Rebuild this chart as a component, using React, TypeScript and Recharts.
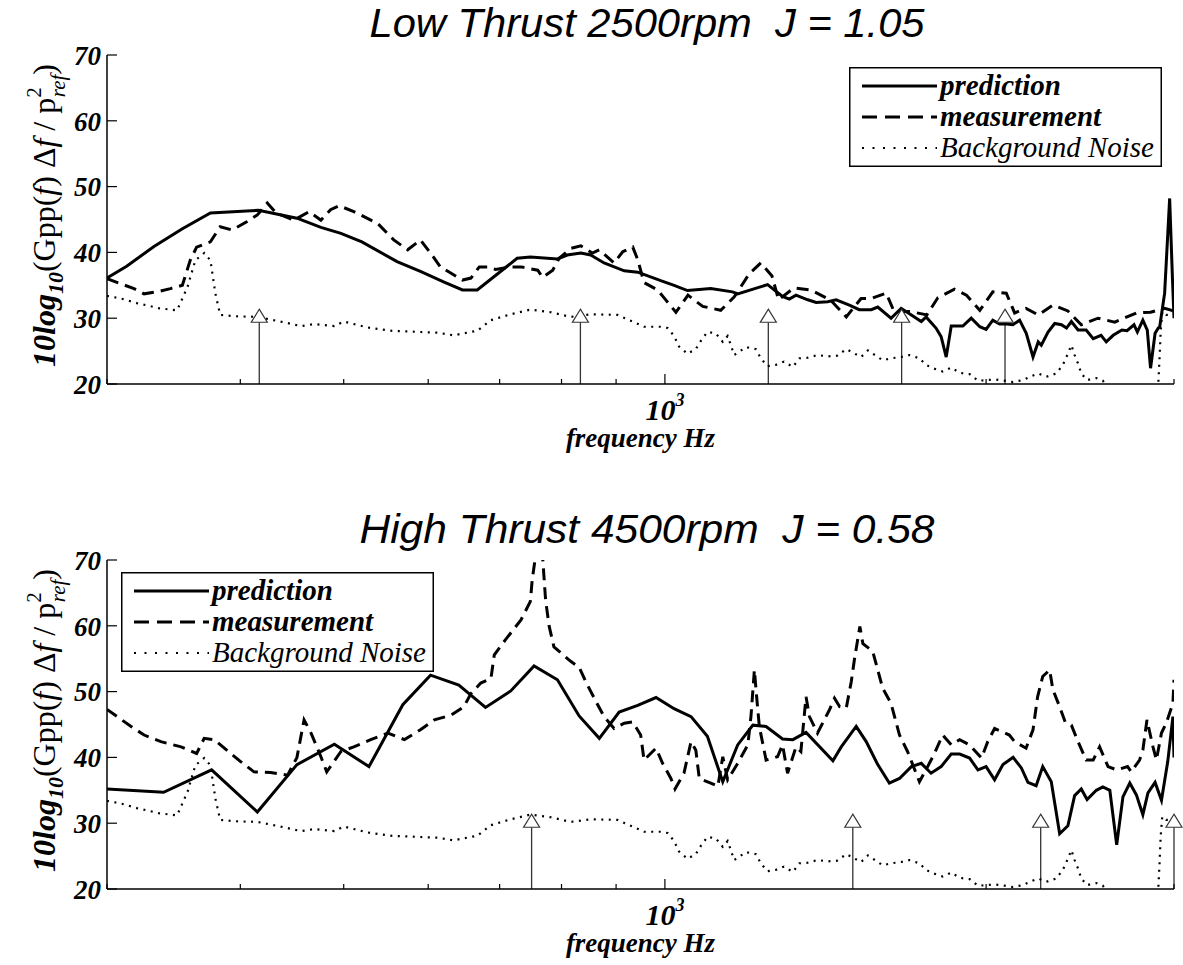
import React from 'react';
import { ComposedChart, Line, XAxis, YAxis, Legend, ReferenceLine, ReferenceDot } from 'recharts';

const SERIF = '"Liberation Serif", "Times New Roman", Tinos, serif';
const SANS = '"Liberation Sans", Arial, sans-serif';

// axis ticks
const freqTicks = [300, 400, 500, 600, 700, 800, 900, 1000, 2000, 3000];
const levelTicks = [20, 30, 40, 50, 60, 70];

// blade passing harmonics (Hz)
const lowHarmonics = [416.7, 833.3, 1250, 1666.7, 2083.3];
const highHarmonics = [750, 1500, 2250, 3000];

// [frequency Hz, dB]
const lowPrediction: [number, number][] = [
  [300, 36.1], [313, 37.9], [332, 40.9], [353, 43.6], [375, 46.0], [416, 46.4], [452, 45.2], [476, 43.8],
  [497, 42.9], [520, 41.6], [561, 38.6], [590, 37.1], [621, 35.5], [646, 34.3], [667, 34.3], [727, 39.1],
  [748, 39.3], [793, 39.0], [810, 39.6], [834, 39.9], [852, 39.6], [877, 38.4], [916, 37.2], [943, 37.0],
  [991, 35.7], [1020, 35.0], [1050, 34.2], [1104, 34.5], [1157, 34.0], [1170, 33.7], [1248, 35.1], [1289, 33.3],
  [1308, 32.9], [1327, 33.5], [1361, 32.8], [1386, 32.4], [1421, 32.5], [1447, 32.8], [1489, 32.0], [1521, 31.3],
  [1561, 31.3], [1583, 31.7], [1629, 30.0], [1665, 31.5], [1702, 30.5], [1739, 29.5], [1757, 30.2], [1795, 28.5],
  [1815, 27.2], [1835, 24.1], [1855, 28.8], [1902, 28.8], [1937, 30.0], [1973, 28.7], [2000, 28.3], [2029, 29.7],
  [2059, 29.1], [2089, 29.1], [2119, 29.0], [2150, 29.7], [2181, 27.7], [2213, 24.1], [2238, 26.4], [2253, 25.9],
  [2286, 27.9], [2319, 29.2], [2353, 29.0], [2379, 28.5], [2404, 29.5], [2439, 28.2], [2482, 28.2], [2520, 26.9],
  [2563, 27.4], [2592, 26.4], [2631, 27.4], [2681, 28.2], [2711, 28.1], [2752, 29.0], [2772, 27.9], [2805, 29.7],
  [2832, 28.2], [2852, 22.4], [2880, 27.7], [2900, 28.5], [2909, 28.7], [2940, 33.8], [2972, 48.2], [2990, 36.0],
  [3000, 30.0],
];

const lowMeasurement: [number, number][] = [
  [300, 36.0], [318, 34.5], [325, 33.7], [334, 34.0], [344, 34.5], [353, 35.0], [359, 38.8], [364, 40.8],
  [375, 41.6], [383, 43.9], [393, 43.4], [406, 44.7], [415, 45.7], [424, 47.5], [432, 46.0], [449, 44.9],
  [464, 46.2], [476, 44.9], [486, 46.5], [495, 47.1], [511, 46.2], [538, 44.4], [557, 41.9], [574, 40.4],
  [590, 41.9], [603, 39.9], [616, 37.8], [646, 35.8], [658, 36.1], [670, 37.8], [682, 37.8], [694, 37.4],
  [717, 37.8], [733, 37.8], [760, 37.3], [768, 36.2], [785, 37.3], [796, 39.1], [816, 40.6], [834, 41.0],
  [855, 39.9], [868, 40.4], [896, 38.4], [913, 40.1], [933, 40.8], [943, 38.9], [956, 35.4], [984, 34.3],
  [997, 33.2], [1024, 30.9], [1051, 33.5], [1085, 31.8], [1128, 31.2], [1161, 33.2], [1199, 36.7], [1230, 38.4],
  [1260, 36.4], [1278, 32.8], [1321, 34.6], [1370, 34.3], [1431, 32.7], [1479, 30.2], [1527, 33.0], [1561, 33.0],
  [1612, 33.8], [1640, 31.0], [1700, 31.0], [1760, 30.5], [1802, 33.1], [1868, 34.4], [1917, 33.5], [1973, 31.2],
  [2029, 34.0], [2089, 33.8], [2127, 30.8], [2180, 31.5], [2238, 30.5], [2310, 32.0], [2386, 31.1], [2456, 29.0],
  [2546, 30.0], [2640, 29.4], [2766, 30.8], [2852, 30.9], [2940, 31.5], [2985, 31.2], [3000, 31.0],
];

const highPrediction: [number, number][] = [
  [300, 35.2], [339, 34.7], [376, 38.1], [415, 31.7], [452, 38.9], [490, 42.0], [528, 38.6], [568, 48.0],
  [603, 52.5], [641, 51.0], [679, 47.6], [717, 50.1], [754, 53.9], [793, 51.8], [831, 46.3], [868, 42.9],
  [906, 46.9], [943, 47.9], [981, 49.1], [1020, 47.4], [1058, 46.2], [1096, 43.2], [1133, 36.3], [1170, 41.9],
  [1209, 44.9], [1244, 44.7], [1289, 42.8], [1318, 42.7], [1356, 43.8], [1437, 39.5], [1463, 41.6], [1495, 43.7],
  [1511, 44.7], [1544, 42.4], [1583, 38.9], [1623, 36.1], [1659, 36.8], [1702, 38.6], [1739, 39.1], [1776, 37.6],
  [1815, 38.6], [1855, 40.5], [1889, 40.5], [1930, 39.9], [1965, 38.1], [2000, 38.6], [2037, 36.6], [2074, 38.9],
  [2120, 40.0], [2158, 38.4], [2189, 36.2], [2228, 35.7], [2260, 38.6], [2302, 36.3], [2344, 28.4], [2386, 29.6],
  [2421, 34.2], [2456, 35.2], [2487, 33.6], [2537, 35.0], [2573, 35.5], [2612, 35.0], [2651, 26.7], [2687, 34.0],
  [2727, 36.1], [2766, 34.3], [2805, 31.3], [2836, 34.6], [2880, 36.2], [2920, 33.5], [2960, 39.4], [2993, 46.2],
  [3000, 40.0],
];

const highMeasurement: [number, number][] = [
  [300, 47.3], [316, 44.7], [325, 43.4], [337, 42.4], [352, 41.6], [364, 40.6], [370, 42.9], [378, 42.7],
  [400, 39.4], [412, 37.8], [427, 37.7], [443, 37.3], [452, 40.0], [459, 45.7], [466, 43.7], [476, 40.1],
  [482, 37.8], [497, 40.9], [511, 41.6], [530, 42.7], [550, 43.7], [570, 42.7], [590, 44.2], [608, 45.7],
  [630, 46.4], [648, 47.7], [658, 49.7], [672, 51.3], [687, 52.0], [692, 55.6], [709, 57.9], [733, 60.9],
  [748, 63.7], [751, 67.0], [757, 71.0], [764, 74.0], [768, 70.5], [773, 63.9], [779, 59.9], [787, 56.8],
  [816, 54.6], [831, 53.7], [846, 51.0], [865, 48.0], [877, 46.2], [896, 44.4], [916, 45.2], [933, 45.4],
  [949, 43.4], [956, 39.6], [981, 41.4], [995, 39.1], [1013, 36.8], [1022, 35.2], [1042, 37.6], [1058, 42.4],
  [1069, 41.1], [1077, 36.8], [1104, 36.1], [1121, 35.6], [1133, 40.1], [1145, 36.6], [1170, 39.1], [1196, 41.9],
  [1204, 46.2], [1213, 53.3], [1218, 49.8], [1226, 44.7], [1244, 39.6], [1275, 40.1], [1289, 41.9], [1303, 37.6],
  [1327, 41.6], [1341, 40.9], [1356, 49.2], [1366, 46.2], [1390, 43.7], [1426, 47.2], [1442, 49.0], [1458, 47.7],
  [1479, 47.5], [1495, 51.5], [1505, 54.8], [1523, 59.9], [1533, 57.3], [1566, 56.1], [1600, 50.5], [1629, 48.2],
  [1659, 43.4], [1688, 40.9], [1707, 38.9], [1732, 36.3], [1763, 38.6], [1789, 40.6], [1821, 43.4], [1855, 41.9],
  [1889, 42.7], [1930, 41.9], [1980, 39.9], [2007, 42.4], [2037, 44.4], [2103, 43.4], [2127, 42.4], [2180, 41.4],
  [2213, 44.2], [2235, 49.2], [2260, 52.3], [2294, 53.3], [2310, 50.3], [2344, 47.7], [2372, 45.4], [2404, 44.9],
  [2439, 42.4], [2482, 39.6], [2520, 39.6], [2555, 41.6], [2602, 38.6], [2651, 38.1], [2714, 38.6], [2736, 37.8],
  [2785, 39.6], [2805, 41.1], [2830, 45.7], [2867, 41.6], [2888, 39.6], [2920, 43.7], [2950, 45.2], [2993, 48.2],
  [3000, 51.8],
];

// same background measurement in both panels
const backgroundNoise: [number, number][] = [
  [300, 33.4], [309, 33.0], [320, 32.3], [336, 31.5], [349, 31.2], [357, 34.8], [363, 38.8], [370, 39.9],
  [375, 38.8], [379, 33.8], [383, 30.5], [395, 30.3], [415, 30.2], [436, 29.5], [456, 28.8], [469, 29.1],
  [490, 28.8], [500, 29.5], [526, 28.6], [553, 28.1], [590, 27.9], [612, 27.8], [634, 27.4], [667, 28.1],
  [687, 29.7], [717, 30.6], [748, 31.3], [782, 30.9], [816, 30.2], [852, 30.6], [903, 30.5], [956, 28.7],
  [991, 28.7], [1006, 28.5], [1020, 27.3], [1031, 25.7], [1050, 24.6], [1069, 25.3], [1081, 26.6], [1096, 27.9],
  [1116, 27.7], [1133, 26.4], [1145, 27.3], [1153, 25.9], [1161, 24.4], [1174, 24.9], [1191, 25.6], [1217, 25.3],
  [1230, 23.9], [1248, 22.7], [1270, 22.9], [1293, 23.4], [1318, 22.6], [1337, 23.9], [1361, 24.0], [1390, 24.4],
  [1421, 24.2], [1450, 24.3], [1479, 25.3], [1527, 24.1], [1550, 25.1], [1600, 23.6], [1629, 23.9], [1665, 24.1],
  [1695, 24.4], [1732, 23.9], [1757, 22.9], [1783, 22.4], [1821, 21.9], [1855, 22.5], [1889, 21.7], [1930, 21.5],
  [1965, 20.5], [2007, 20.6], [2037, 20.7], [2082, 20.5], [2119, 20.3], [2166, 20.6], [2205, 21.2], [2238, 21.6],
  [2278, 21.1], [2327, 21.6], [2360, 22.9], [2386, 24.6], [2404, 25.9], [2421, 24.4], [2439, 23.1], [2456, 21.6],
  [2487, 20.6], [2537, 20.9], [2573, 20.5], [2610, 19.0], [2700, 18.0], [2880, 18.0], [2900, 20.0], [2908, 24.0],
  [2915, 28.0], [2925, 31.0], [2950, 30.5], [3000, 30.5],
];

const toPoints = (rows: [number, number][]) => rows.map(([f, v]) => ({ f, v }));

const legendRows = [
  { name: 'prediction', dash: undefined, width: 3, weight: 700 },
  { name: 'measurement', dash: '15 8', width: 3, weight: 700 },
  { name: 'Background Noise', dash: '2 8.5', width: 2, weight: 400 },
];

function BottomTick(props: any) {
  const { x, y, payload } = props;
  const major = payload.value === 1000;
  return (
    <g>
      <line x1={x} y1={y} x2={x} y2={y - (major ? 10 : 5)} stroke="#000" strokeWidth={1.2} />
      {major && (
        <text x={x} y={y + 36} textAnchor="middle" fontFamily={SERIF} fontSize={30} fontWeight="bold" fontStyle="italic">
          10<tspan dy={-14} fontSize={18}>3</tspan>
        </text>
      )}
    </g>
  );
}

function TopTick(props: any) {
  const { x, y, payload } = props;
  const major = payload.value === 1000;
  return <line x1={x} y1={y} x2={x} y2={y + (major ? 10 : 5)} stroke="#000" strokeWidth={1.2} />;
}

function LeftTick(props: any) {
  const { x, y, payload } = props;
  return (
    <g>
      <line x1={x} y1={y} x2={x + 10} y2={y} stroke="#000" strokeWidth={1.2} />
      <text x={x - 6} y={y} dy="0.36em" textAnchor="end" fontFamily={SERIF} fontSize={27} fontWeight="bold" fontStyle="italic">
        {payload.value}
      </text>
    </g>
  );
}

function RightTick(props: any) {
  const { x, y } = props;
  return <line x1={x} y1={y} x2={x - 10} y2={y} stroke="#000" strokeWidth={1.2} />;
}

const Triangle = (p: any) => (
  <polygon
    points={`${p.cx},${p.cy - 7} ${p.cx - 8},${p.cy + 6} ${p.cx + 8},${p.cy + 6}`}
    fill="#fff"
    stroke="#333"
    strokeWidth={1.2}
  />
);

function LegendBox() {
  return (
    <svg width={313} height={100} style={{ display: 'block' }}>
      <rect x={0.75} y={0.75} width={311.5} height={98.5} fill="#fff" stroke="#000" strokeWidth={1.5} />
      {legendRows.map((r, i) => {
        const y = 19 + i * 31;
        return (
          <g key={r.name}>
            <line x1={13} x2={88} y1={y} y2={y} stroke="#000" strokeWidth={r.width} strokeDasharray={r.dash} />
            <text x={91} y={y} dy="0.3em" fontFamily={SERIF} fontSize={29} fontStyle="italic" fontWeight={r.weight}>
              {r.name}
            </text>
          </g>
        );
      })}
    </svg>
  );
}

function Panel({ title, titleWidth, titleY, prediction, measurement, harmonics, legendLeft }: any) {
  const axisLine = { stroke: '#000', strokeWidth: 1.5 };
  return (
    <div style={{ position: 'relative', width: 1183, height: 460 }}>
      <svg width={1183} height={52} style={{ position: 'absolute', left: 0, top: 0 }}>
        <text x={647} y={titleY} textAnchor="middle" fontFamily={SANS} fontSize={40} fontStyle="italic"
          textLength={titleWidth} lengthAdjust="spacingAndGlyphs">
          {title}
        </text>
      </svg>
      <ComposedChart width={1183} height={460} margin={{ top: 55, right: 9, bottom: 0, left: 0 }}>
        <XAxis
          dataKey="f" type="number" scale="log" domain={[300, 3000]} ticks={freqTicks} interval={0}
          allowDataOverflow tickSize={0} tickMargin={0} tickLine={false} tick={<BottomTick />}
          axisLine={axisLine} height={76}
          label={(p: any) => {
            const vb = p.viewBox;
            return (
              <text x={vb.x + vb.width / 2} y={vb.y + 63} textAnchor="middle" fontFamily={SERIF} fontSize={27} fontWeight="bold" fontStyle="italic">
                frequency Hz
              </text>
            );
          }}
        />
        <XAxis
          xAxisId="top" orientation="top" dataKey="f" type="number" scale="log" domain={[300, 3000]}
          ticks={freqTicks} interval={0} allowDataOverflow tickSize={0} tickMargin={0} tickLine={false}
          tick={<TopTick />} axisLine={axisLine} height={0}
        />
        <YAxis
          type="number" domain={[20, 70]} ticks={levelTicks} interval={0} allowDataOverflow width={107}
          tickSize={0} tickMargin={0} tickLine={false} tick={<LeftTick />} axisLine={axisLine}
          label={(p: any) => {
            const vb = p.viewBox;
            const cx = 55;
            const cy = vb.y + vb.height / 2 - 4;
            return (
              <text x={cx} y={cy} textAnchor="middle" transform={`rotate(-90 ${cx} ${cy})`} fontFamily={SERIF} fontSize={32}>
                <tspan fontWeight="bold" fontStyle="italic">10log</tspan>
                <tspan fontWeight="bold" fontStyle="italic" fontSize={22} dy={8}>10</tspan>
                <tspan dy={-8}>(Gpp(</tspan><tspan fontStyle="italic">f</tspan><tspan>) Δ</tspan>
                <tspan fontStyle="italic">f</tspan><tspan> / p</tspan>
                <tspan fontSize={21} dy={-14}>2</tspan>
                <tspan fontSize={21} fontStyle="italic" dx={-10} dy={24}>ref</tspan>
                <tspan dy={-10}>)</tspan>
              </text>
            );
          }}
        />
        <YAxis
          yAxisId="right" orientation="right" type="number" domain={[20, 70]} ticks={levelTicks} interval={0}
          allowDataOverflow width={0} tickSize={0} tickMargin={0} tickLine={false} tick={<RightTick />}
          axisLine={axisLine}
        />
        {harmonics.map((f: number) => (
          <ReferenceLine key={`s${f}`} segment={[{ x: f, y: 20 }, { x: f, y: 29.4 }]} stroke="#333" strokeWidth={1.3} />
        ))}
        {harmonics.map((f: number) => (
          <ReferenceDot key={`t${f}`} x={f} y={30.3} r={8} shape={Triangle} />
        ))}
        <Line data={toPoints(backgroundNoise)} dataKey="v" name="Background Noise" type="linear" stroke="#000"
          strokeWidth={2.2} strokeDasharray="2 5.5" dot={false} activeDot={false} isAnimationActive={false} />
        <Line data={toPoints(measurement)} dataKey="v" name="measurement" type="linear" stroke="#000"
          strokeWidth={3} strokeDasharray="12 7" dot={false} activeDot={false} isAnimationActive={false} />
        <Line data={toPoints(prediction)} dataKey="v" name="prediction" type="linear" stroke="#000"
          strokeWidth={3} dot={false} activeDot={false} isAnimationActive={false} />
        <Legend layout="vertical" align="center" verticalAlign="middle" content={<LegendBox />}
          wrapperStyle={{ left: legendLeft, top: 67, width: 313, height: 100 }} />
      </ComposedChart>
    </div>
  );
}

export default function App() {
  return (
    <div style={{ position: 'absolute', left: 0, top: 0, width: 1183, height: 965, background: '#fff' }}>
      <div style={{ position: 'absolute', left: 0, top: 0 }}>
        <Panel title={'Low Thrust 2500rpm\u00A0\u00A0J = 1.05'} titleWidth={555} titleY={37} prediction={lowPrediction}
          measurement={lowMeasurement} harmonics={lowHarmonics} legendLeft={849} />
      </div>
      <div style={{ position: 'absolute', left: 0, top: 505 }}>
        <Panel title={'High Thrust 4500rpm\u00A0\u00A0J = 0.58'} titleWidth={575} titleY={38} prediction={highPrediction}
          measurement={highMeasurement} harmonics={highHarmonics} legendLeft={121} />
      </div>
    </div>
  );
}
